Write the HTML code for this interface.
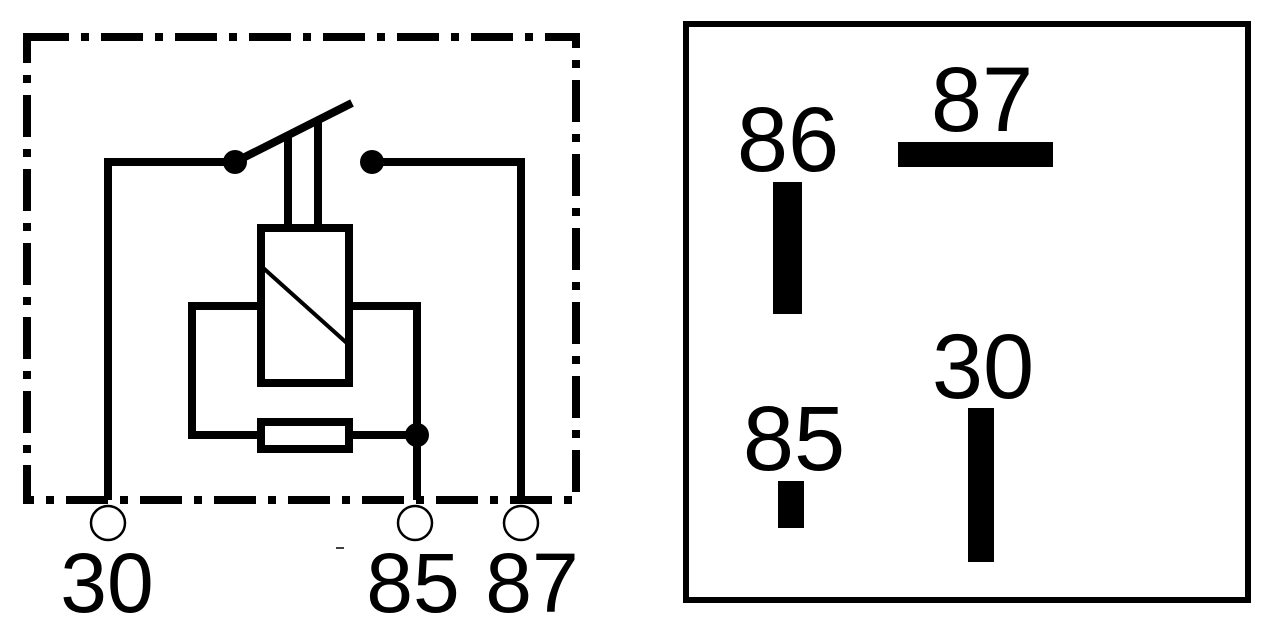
<!DOCTYPE html>
<html><head><meta charset="utf-8"><style>
html,body{margin:0;padding:0;background:#fff;width:1280px;height:641px;overflow:hidden}
svg{display:block}
text{font-family:"Liberation Sans",Arial,sans-serif;fill:#000}
</style></head><body>
<svg width="1280" height="641" viewBox="0 0 1280 641" xmlns="http://www.w3.org/2000/svg">
<g fill="none" stroke="#000" stroke-width="8">
  <rect x="27" y="37" width="549" height="463" stroke-dasharray="42 12 8 12"/>
  <polyline points="108,500 108,162 235,162"/>
  <line x1="235" y1="162" x2="352" y2="103"/>
  <polyline points="372,162 521,162 521,500"/>
  <line x1="288" y1="135" x2="288" y2="228"/>
  <line x1="318" y1="120" x2="318" y2="228"/>
  <rect x="261" y="228" width="88" height="155"/>
  <polyline points="261,306 192,306 192,435 261,435"/>
  <polyline points="349,306 417,306 417,500"/>
  <line x1="349" y1="435" x2="417" y2="435"/>
  <rect x="261" y="422" width="88" height="27"/>
</g>
<line x1="261" y1="266" x2="349" y2="345" stroke="#000" stroke-width="4"/>
<circle cx="235" cy="162" r="12" fill="#000"/>
<circle cx="372" cy="162" r="12" fill="#000"/>
<circle cx="417" cy="435" r="12" fill="#000"/>
<g fill="#fff" stroke="#000" stroke-width="2.5">
  <circle cx="108" cy="523" r="17"/>
  <circle cx="415" cy="523" r="17"/>
  <circle cx="521" cy="523" r="17"/>
</g>
<line x1="336" y1="548" x2="344" y2="548" stroke="#000" stroke-width="1.5"/>
<g font-size="84" text-anchor="middle">
  <text x="107" y="612">30</text>
  <text x="413" y="612">85</text>
  <text x="532" y="612">87</text>
</g>
<rect x="686" y="24" width="562" height="576" fill="none" stroke="#000" stroke-width="6"/>
<rect x="773" y="182" width="29" height="132" fill="#000"/>
<rect x="898" y="142" width="155" height="25" fill="#000"/>
<rect x="778" y="481" width="26" height="47" fill="#000"/>
<rect x="968" y="408" width="26" height="154" fill="#000"/>
<g font-size="92" text-anchor="middle">
  <text x="788" y="171">86</text>
  <text x="982" y="131">87</text>
  <text x="794" y="470">85</text>
  <text x="983" y="398">30</text>
</g>
</svg>
</body></html>
